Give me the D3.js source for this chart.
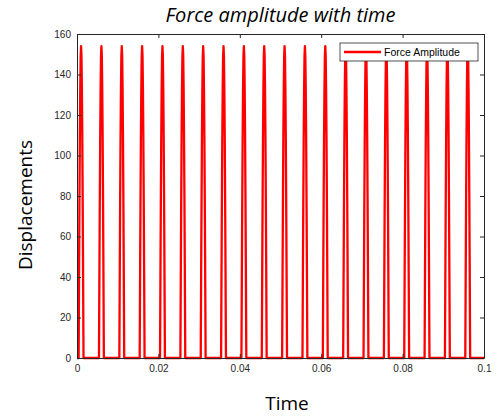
<!DOCTYPE html>
<html lang="en">
<head>
<meta charset="utf-8">
<script src="https://cdn.jsdelivr.net/npm/d3@7"></script>
<style>
  body { margin: 0; background: #fff; }
  .tick text { font-family: "Liberation Sans", Arial, sans-serif; font-size: 10px; fill: #262626; }
  .domain, .tick line { stroke: #262626; }
</style>
</head>
<body>
<script>
// pulse start times (s)
const pulseStarts = [0.0004, 0.0054, 0.0104, 0.0154, 0.0204, 0.0254, 0.0304, 0.0354, 0.0404, 0.0454,
                     0.0504, 0.0554, 0.0604, 0.0654, 0.0704, 0.0754, 0.0804, 0.0854, 0.0904, 0.0954];
// shape of one pulse: time offset from start and force
const pulseOffsets = [0, 0.0001, 0.0002, 0.0003, 0.0004, 0.0005, 0.0006, 0.0007, 0.0008, 0.0009, 0.001, 0.0011, 0.0012];
const pulseForce   = [0, 40, 77, 109, 133, 149, 154, 149, 133, 109, 77, 40, 0];
const xTicks = [0, 0.02, 0.04, 0.06, 0.08, 0.1];
const xTickLabels = ["0", "0.02", "0.04", "0.06", "0.08", "0.1"];
const yTicks = [0, 20, 40, 60, 80, 100, 120, 140, 160];

const W = 498, H = 419;
const margin = {top: 34, right: 14, bottom: 61, left: 77};
const w = W - margin.left - margin.right;
const h = H - margin.top - margin.bottom;

// build the series
const series = [[0, 0]];
pulseStarts.forEach(s => {
  pulseOffsets.forEach((o, i) => series.push([s + o, pulseForce[i]]));
});
series.push([0.1, 0]);

const svg = d3.select("body").append("svg")
  .attr("width", W)
  .attr("height", H);

const g = svg.append("g")
  .attr("transform", "translate(" + margin.left + "," + margin.top + ")");

const x = d3.scaleLinear().domain([0, 0.1]).range([0, w]);
const y = d3.scaleLinear().domain([0, 160]).range([h, 0]);

// line first, axes drawn over it
g.append("path")
  .datum(series)
  .attr("fill", "none")
  .attr("stroke", "#ff0000")
  .attr("stroke-width", 2.3)
  .attr("stroke-linejoin", "round")
  .attr("d", d3.line().x(d => x(d[0])).y(d => y(d[1])));

g.append("g")
  .attr("transform", "translate(0," + h + ")")
  .call(d3.axisBottom(x).tickValues(xTicks)
    .tickFormat((d, i) => xTickLabels[i])
    .tickSizeInner(-4).tickSizeOuter(0).tickPadding(7));

g.append("g")
  .call(d3.axisTop(x).tickValues(xTicks).tickFormat("")
    .tickSizeInner(-4).tickSizeOuter(0));

g.append("g")
  .call(d3.axisLeft(y).tickValues(yTicks)
    .tickSizeInner(-4).tickSizeOuter(0).tickPadding(6));

g.append("g")
  .attr("transform", "translate(" + w + ",0)")
  .call(d3.axisRight(y).tickValues(yTicks).tickFormat("")
    .tickSizeInner(-4).tickSizeOuter(0));

// legend
const legend = g.append("g").attr("transform", "translate(" + (w - 144) + ",9)");
legend.append("rect")
  .attr("width", 138).attr("height", 18)
  .attr("fill", "#fff").attr("stroke", "#262626").attr("stroke-width", 0.8);
legend.append("line")
  .attr("x1", 4).attr("x2", 41).attr("y1", 9).attr("y2", 9)
  .attr("stroke", "#ff0000").attr("stroke-width", 2.3);
legend.append("text")
  .attr("x", 44).attr("y", 9).attr("dy", "0.35em")
  .style("font-family", "Liberation Sans, Arial, sans-serif")
  .style("font-size", "10.5px")
  .text("Force Amplitude");

// titles
svg.append("text")
  .attr("x", margin.left + w / 2).attr("y", 22)
  .attr("text-anchor", "middle")
  .style("font-family", "Open Sans, sans-serif")
  .style("font-style", "italic")
  .style("font-size", "20px")
  .text("Force amplitude with time");

svg.append("text")
  .attr("x", 287).attr("y", 410)
  .attr("text-anchor", "middle")
  .style("font-family", "Open Sans, sans-serif")
  .style("font-size", "19px")
  .text("Time");

svg.append("text")
  .attr("transform", "translate(32," + (margin.top + 171) + ") rotate(-90)")
  .attr("text-anchor", "middle")
  .style("font-family", "Open Sans, sans-serif")
  .style("font-size", "19px")
  .text("Displacements");
</script>
</body>
</html>
